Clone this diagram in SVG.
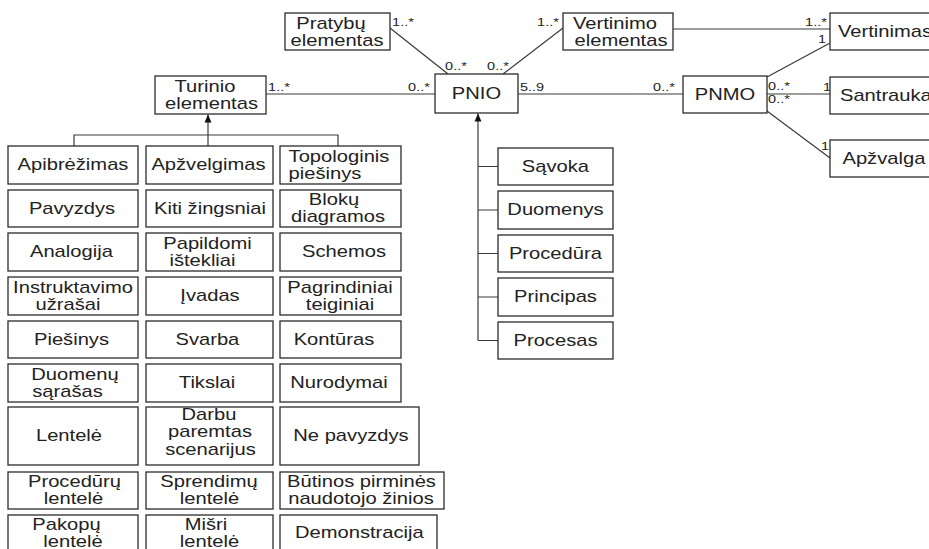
<svg xmlns="http://www.w3.org/2000/svg" width="929" height="549" viewBox="0 0 929 549">
<defs>
<style>
.b{fill:#fff;stroke:#2b2b2b;stroke-width:1.3}
.c{fill:none;stroke:#3a3a3a;stroke-width:1.2}
.t{font-family:"Liberation Sans",Arial,sans-serif;font-size:16px;fill:#222;text-anchor:middle;transform-box:fill-box;transform-origin:center;transform:scaleX(1.26)}
.m{font-family:"Liberation Sans",Arial,sans-serif;font-size:11.5px;fill:#222;text-anchor:middle;transform-box:fill-box;transform-origin:center;transform:scaleX(1.26)}
</style>
<marker id="tri" viewBox="0 0 8 8" refX="8" refY="4" markerWidth="8" markerHeight="8" markerUnits="userSpaceOnUse" orient="auto">
<path d="M0,0.5 L8,4 L0,7.5 z" fill="#111"/>
</marker>
</defs>
<rect width="929" height="549" fill="#fff"/>

<g id="connectors">
<line class="c" x1="390" y1="28" x2="448" y2="74"/>
<line class="c" x1="563" y1="28" x2="503" y2="74"/>
<line class="c" x1="266" y1="94" x2="435" y2="94"/>
<line class="c" x1="518" y1="94" x2="683" y2="94"/>
<line class="c" x1="673" y1="29" x2="830" y2="29"/>
<line class="c" x1="767" y1="77" x2="830" y2="43"/>
<line class="c" x1="767" y1="94" x2="830" y2="94"/>
<line class="c" x1="767" y1="111" x2="830" y2="158"/>
<path class="c" d="M74,146 V135 H338 V146"/>
<path class="c" d="M208,146 V114.5" marker-end="url(#tri)"/>
<path class="c" d="M478,340.5 V113.5" marker-end="url(#tri)"/>
<path class="c" d="M478,166.5 H498 M478,210 H498 M478,253.5 H498 M478,297 H498 M478,340.5 H498"/>
<text class="m" x="403" y="26">1..*</text>
<text class="m" x="456" y="70">0..*</text>
<text class="m" x="498" y="70">0..*</text>
<text class="m" x="548" y="26">1..*</text>
<text class="m" x="279" y="91">1..*</text>
<text class="m" x="419" y="91">0..*</text>
<text class="m" x="532" y="91">5..9</text>
<text class="m" x="664" y="91">0..*</text>
<text class="m" x="816" y="26">1..*</text>
<text class="m" x="822" y="43">1</text>
<text class="m" x="779" y="90">0..*</text>
<text class="m" x="779" y="103">0..*</text>
<text class="m" x="827" y="91">1</text>
<text class="m" x="825" y="150">1</text>
</g>

<g id="pratybu"><rect class="b" x="285" y="13" width="105" height="37"/><text class="t" x="331" y="29">Pratybų</text><text class="t" x="337" y="46">elementas</text></g>
<g id="vertinimo"><rect class="b" x="563" y="13" width="110" height="37"/><text class="t" x="615" y="29">Vertinimo</text><text class="t" x="621" y="46">elementas</text></g>
<g id="turinio"><rect class="b" x="155" y="76" width="111" height="38"/><text class="t" x="205" y="92">Turinio</text><text class="t" x="211.5" y="109">elementas</text></g>
<g id="pnio"><rect class="b" x="435" y="74" width="83" height="39"/><text class="t" x="476.5" y="99.5">PNIO</text></g>
<g id="pnmo"><rect class="b" x="683" y="76" width="84" height="37"/><text class="t" x="725" y="100">PNMO</text></g>
<g id="vertinimas"><rect class="b" x="830" y="13" width="110" height="37"/><text class="t" x="885" y="37">Vertinimas</text></g>
<g id="santrauka"><rect class="b" x="830" y="77" width="110" height="37"/><text class="t" x="886" y="101">Santrauka</text></g>
<g id="apzvalga"><rect class="b" x="830" y="140" width="110" height="37"/><text class="t" x="884" y="164">Apžvalga</text></g>

<g id="savoka"><rect class="b" x="498" y="148" width="115" height="37"/><text class="t" x="555.5" y="172">Sąvoka</text></g>
<g id="duomenys"><rect class="b" x="498" y="191" width="115" height="38"/><text class="t" x="555.5" y="215.5">Duomenys</text></g>
<g id="procedura"><rect class="b" x="498" y="235" width="115" height="37"/><text class="t" x="555.5" y="259">Procedūra</text></g>
<g id="principas"><rect class="b" x="498" y="278" width="115" height="38"/><text class="t" x="555.5" y="302.5">Principas</text></g>
<g id="procesas"><rect class="b" x="498" y="322" width="115" height="37"/><text class="t" x="555.5" y="346">Procesas</text></g>

<g id="apibrezimas"><rect class="b" x="8" y="146" width="130" height="38"/><text class="t" x="73" y="170.5">Apibrėžimas</text></g>
<g id="apzvelgimas"><rect class="b" x="146" y="146" width="127" height="38"/><text class="t" x="208.5" y="170.5">Apžvelgimas</text></g>
<g id="topologinis"><rect class="b" x="280" y="146" width="121" height="38"/><text class="t" x="339" y="162">Topologinis</text><text class="t" x="325" y="179">piešinys</text></g>

<g id="pavyzdys"><rect class="b" x="8" y="190" width="130" height="37"/><text class="t" x="72" y="214">Pavyzdys</text></g>
<g id="kiti"><rect class="b" x="146" y="190" width="127" height="37"/><text class="t" x="210" y="214">Kiti žingsniai</text></g>
<g id="bloku"><rect class="b" x="280" y="190" width="121" height="37"/><text class="t" x="334" y="205.5">Blokų</text><text class="t" x="338" y="222.5">diagramos</text></g>

<g id="analogija"><rect class="b" x="8" y="233" width="130" height="38"/><text class="t" x="71.5" y="257.5">Analogija</text></g>
<g id="papildomi"><rect class="b" x="146" y="233" width="127" height="38"/><text class="t" x="207.5" y="249">Papildomi</text><text class="t" x="202.5" y="266">ištekliai</text></g>
<g id="schemos"><rect class="b" x="280" y="233" width="121" height="38"/><text class="t" x="344" y="257.5">Schemos</text></g>

<g id="instruktavimo"><rect class="b" x="8" y="277" width="130" height="38"/><text class="t" x="73" y="293">Instruktavimo</text><text class="t" x="68" y="310">užrašai</text></g>
<g id="ivadas"><rect class="b" x="146" y="277" width="127" height="38"/><text class="t" x="210" y="301.5">Įvadas</text></g>
<g id="pagrindiniai"><rect class="b" x="280" y="277" width="121" height="38"/><text class="t" x="340" y="293">Pagrindiniai</text><text class="t" x="340" y="310">teiginiai</text></g>

<g id="piesinys"><rect class="b" x="8" y="321" width="130" height="37"/><text class="t" x="71.5" y="345">Piešinys</text></g>
<g id="svarba"><rect class="b" x="146" y="321" width="127" height="37"/><text class="t" x="207.5" y="345">Svarba</text></g>
<g id="konturas"><rect class="b" x="280" y="321" width="121" height="37"/><text class="t" x="334" y="345">Kontūras</text></g>

<g id="duomenu"><rect class="b" x="8" y="364" width="130" height="38"/><text class="t" x="75" y="380">Duomenų</text><text class="t" x="67.5" y="397">sąrašas</text></g>
<g id="tikslai"><rect class="b" x="146" y="364" width="127" height="38"/><text class="t" x="207" y="388.5">Tikslai</text></g>
<g id="nurodymai"><rect class="b" x="280" y="364" width="121" height="38"/><text class="t" x="339" y="388.5">Nurodymai</text></g>

<g id="lentele"><rect class="b" x="8" y="407" width="130" height="58"/><text class="t" x="69" y="441.5">Lentelė</text></g>
<g id="darbu"><rect class="b" x="146" y="407" width="127" height="58"/><text class="t" x="209" y="420">Darbu</text><text class="t" x="210" y="437.5">paremtas</text><text class="t" x="210.5" y="455">scenarijus</text></g>
<g id="nepavyzdys"><rect class="b" x="280" y="407" width="139" height="58"/><text class="t" x="351" y="441.5">Ne pavyzdys</text></g>

<g id="proceduru"><rect class="b" x="8" y="472" width="130" height="37"/><text class="t" x="74.5" y="487.5">Procedūrų</text><text class="t" x="73.5" y="504.5">lentelė</text></g>
<g id="sprendimu"><rect class="b" x="146" y="472" width="127" height="37"/><text class="t" x="209" y="487.5">Sprendimų</text><text class="t" x="209.5" y="504.5">lentelė</text></g>
<g id="butinos"><rect class="b" x="280" y="472" width="164" height="37"/><text class="t" x="361.5" y="487.5">Būtinos pirminės</text><text class="t" x="361" y="504.5">naudotojo žinios</text></g>

<g id="pakopu"><rect class="b" x="8" y="515" width="130" height="38"/><text class="t" x="66.5" y="530">Pakopų</text><text class="t" x="73" y="547">lentelė</text></g>
<g id="misri"><rect class="b" x="146" y="515" width="127" height="38"/><text class="t" x="206" y="530">Mišri</text><text class="t" x="209.5" y="547">lentelė</text></g>
<g id="demonstracija"><rect class="b" x="280" y="515" width="157" height="38"/><text class="t" x="359.5" y="538">Demonstracija</text></g>
</svg>
